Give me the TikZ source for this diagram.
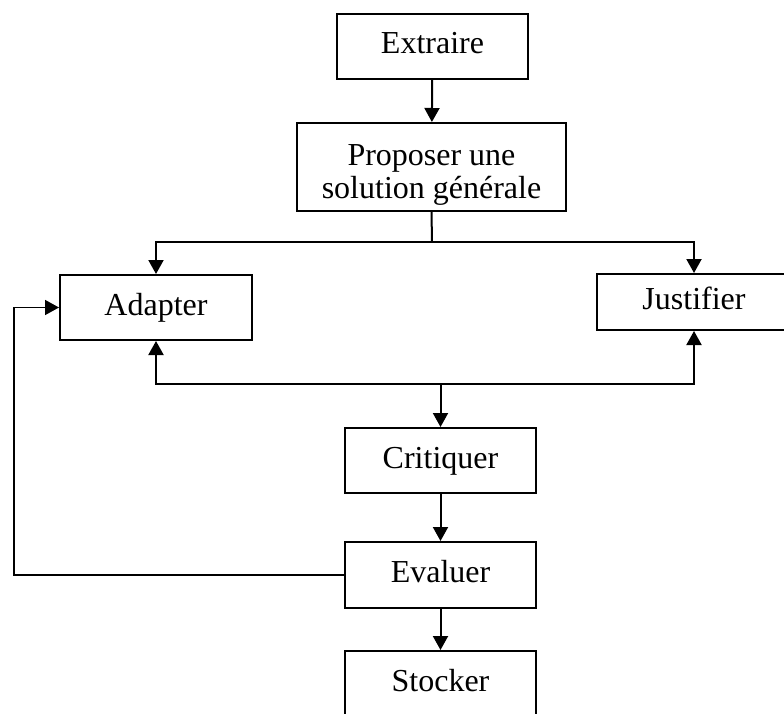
\documentclass[tikz,border=0pt]{standalone}
\usepackage{fontspec}
\setmainfont{Liberation Serif}
\usetikzlibrary{arrows.meta}
\begin{document}
\begin{tikzpicture}[x=1pt,y=-1pt,
  steptext/.style={font=\fontsize{32}{33}\selectfont,align=center,inner sep=0pt},
  stepbox/.style={steptext,draw,line width=2pt,minimum width=191pt,minimum height=65pt,
    text height=21pt,text depth=6pt},
  link/.style={line width=2pt},
  flow/.style={link,-{Triangle[width=15pt,length=14pt]}}]
  \clip (0,0) rectangle (784,714);
  \fill[white] (0,0) rectangle (784,714);

  % process steps
  \node[stepbox] (ext) at (432.5,46.5) {Extraire};
  \node[draw,line width=2pt,minimum width=269pt,minimum height=88pt] (prop) at (431.5,167) {};
  \node[steptext] (proptext) at (431.5,175) {Proposer une\\solution générale};
  \node[stepbox,minimum width=192pt] (adapt) at (156,307.5) {Adapter};
  \node[stepbox,minimum width=194pt,minimum height=56pt] (just) at (694,302) {Justifier};
  \node[stepbox] (crit) at (440.5,460.5) {Critiquer};
  \node[stepbox,minimum height=66pt] (eval) at (440.5,575) {Evaluer};
  \node[stepbox] (stock) at (440.5,683.5) {Stocker};

  % junction points
  \coordinate (split) at (432,242);
  \coordinate (join) at (440.5,384);
  \coordinate (back) at (14,575);

  % connectors
  \draw[flow] (ext) -- (prop);
  \draw[link] (prop.south) -- (split);
  \draw[flow] (split) -| (adapt.north);
  \draw[flow] (split) -| (just.north);
  \draw[flow] (join) -| (adapt.south);
  \draw[flow] (join) -| (just.south);
  \draw[flow] (join) -- (crit.north);
  \draw[flow] (crit) -- (eval);
  \draw[flow] (eval) -- (stock);
  \draw[flow,line width=1.6pt] (eval.west) -- (back) |- (adapt.west);
\end{tikzpicture}
\end{document}
